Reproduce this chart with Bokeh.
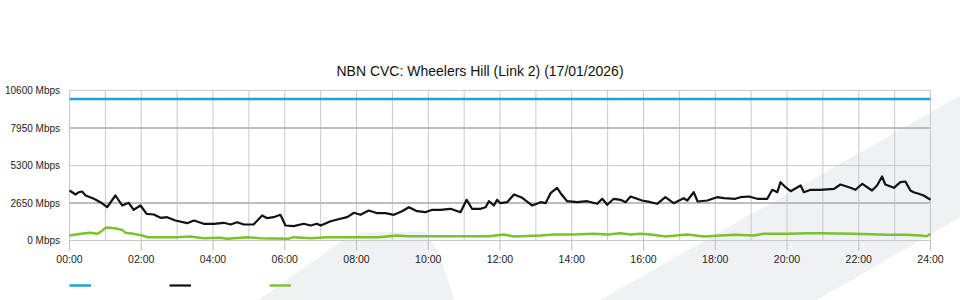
from bokeh.plotting import figure
from bokeh.models import Range1d, Legend, LegendItem
from bokeh.core.properties import value
from bokeh.embed import file_html
from bokeh.resources import INLINE

# ---------------- data ----------------
title_text = "NBN CVC: Wheelers Hill (Link 2) (17/01/2026)"

y_ticks = [0, 2650, 5300, 7950, 10600]
y_tick_labels = ["0 Mbps", "2650 Mbps", "5300 Mbps", "7950 Mbps", "10600 Mbps"]

x_ticks = [0, 2, 4, 6, 8, 10, 12, 14, 16, 18, 20, 22, 24]
x_tick_labels = ["00:00", "02:00", "04:00", "06:00", "08:00", "10:00", "12:00",
                 "14:00", "16:00", "18:00", "20:00", "22:00", "24:00"]
x_grid_hours = list(range(0, 25))

capacity_hours = [0, 24]
capacity_mbps = [10000, 10000]

black_hours = [0.00, 0.17, 0.26, 0.35, 0.45, 0.68, 0.86, 1.05, 1.28, 1.47, 1.65, 1.79,
               1.98, 2.15, 2.35, 2.54, 2.72, 2.95, 3.28, 3.47, 3.74, 4.02, 4.30, 4.49,
               4.67, 4.86, 5.13, 5.37, 5.51, 5.69, 5.88, 6.02, 6.25, 6.53, 6.72, 6.90,
               7.00, 7.28, 7.55, 7.74, 7.93, 8.11, 8.34, 8.58, 8.81, 9.04, 9.27, 9.46,
               9.69, 9.92, 10.11, 10.34, 10.62, 10.90, 11.07, 11.22, 11.46, 11.60, 11.69,
               11.83, 11.92, 12.01, 12.20, 12.39, 12.62, 12.90, 13.13, 13.27, 13.41,
               13.59, 13.69, 13.87, 14.15, 14.43, 14.71, 14.85, 14.99, 15.17, 15.36,
               15.50, 15.64, 15.96, 16.20, 16.38, 16.61, 16.84, 17.12, 17.22, 17.40,
               17.51, 17.78, 18.05, 18.24, 18.56, 18.70, 18.94, 19.17, 19.45, 19.59,
               19.73, 19.82, 19.96, 20.10, 20.38, 20.47, 20.66, 20.93, 21.31, 21.49,
               21.77, 21.91, 22.10, 22.37, 22.51, 22.65, 22.74, 22.98, 23.16, 23.30,
               23.44, 23.53, 23.67, 23.81, 24.00]
black_mbps = [3533, 3251, 3413, 3463, 3180, 2947, 2707, 2353, 3180, 2473, 2664, 2170,
              2473, 1887, 1837, 1604, 1647, 1413, 1223, 1413, 1180, 1180, 1251, 1131,
              1293, 1131, 1131, 1767, 1576, 1647, 1816, 1060, 1011, 1180, 1060, 1180,
              1060, 1364, 1534, 1647, 1958, 1816, 2120, 1929, 1929, 1816, 2071, 2353,
              2071, 2000, 2170, 2170, 2240, 2000, 2876, 2240, 2240, 2353, 2777,
              2473, 2876, 2636, 2707, 3251, 3018, 2473, 2707, 2636, 3343,
              3724, 3343, 2777, 2707, 2777, 2594, 2947, 2523, 2947, 2876,
              2707, 3109, 2827, 2707, 2594, 3060, 2636, 2989, 2827, 3413,
              2756, 2827, 3060, 2989, 2947, 3060, 3109, 2947, 2947, 3583,
              3413, 4120, 3767, 3484, 3887, 3413, 3583, 3583, 3654, 3958,
              3724, 3583, 4007, 3533, 3887, 4523, 3958, 3724, 4120, 4170,
              3533, 3413, 3300, 3180, 2876]

green_hours = [0.00, 0.31, 0.59, 0.77, 0.86, 1.00, 1.14, 1.33, 1.47, 1.56, 1.79, 2.03,
               2.17, 2.54, 3.00, 3.37, 3.74, 4.20, 4.40, 4.95, 5.32, 6.10, 6.25, 6.72,
               7.18, 8.11, 8.60, 9.13, 9.41, 10.00, 10.50, 11.00, 11.70, 12.10, 12.39,
               13.13, 13.50, 14.06, 14.60, 15.00, 15.36, 15.64, 15.92, 16.20, 16.61,
               17.22, 17.68, 18.15, 18.56, 19.07, 19.35, 20.00, 20.56, 20.93, 21.86,
               22.79, 23.30, 23.72, 23.90, 24.00]
green_mbps = [353, 473, 544, 473, 587, 897, 897, 827, 756, 544, 473, 353,
              233, 233, 233, 283, 163, 190, 120, 233, 163, 120, 233, 163,
              233, 233, 233, 353, 304, 304, 304, 304, 304, 424, 283,
              353, 424, 424, 473, 424, 516, 424, 473, 424, 283,
              424, 283, 353, 403, 353, 473, 473, 516, 516, 473,
              403, 403, 353, 304, 473]

# ---------------- layout (pixels) ----------------
W, H = 960, 300
PLOT_L, PLOT_R, PLOT_T, PLOT_B = 69, 930, 90, 240
X0, X1 = x_ticks[0], x_ticks[-1]
Y0, Y1 = y_ticks[0], y_ticks[-1]
xpp = (X1 - X0) / (PLOT_R - PLOT_L)        # hours per pixel
ypp = (Y1 - Y0) / (PLOT_B - PLOT_T)        # Mbps per pixel
x_start = X0 - PLOT_L * xpp
x_end = X1 + (W - PLOT_R) * xpp
y_start = Y0 - (H - PLOT_B) * ypp
y_end = Y1 + PLOT_T * ypp


def px(sx):
    return x_start + sx * xpp


def py(sy):
    return y_end - sy * ypp


FONT = "Liberation Sans"

p = figure(width=W, height=H, x_range=Range1d(x_start, x_end),
           y_range=Range1d(y_start, y_end), output_backend="svg",
           toolbar_location=None, x_axis_location=None, y_axis_location=None,
           min_border=0, min_border_left=0, min_border_right=0,
           min_border_top=0, min_border_bottom=0)
p.background_fill_color = "white"
p.border_fill_color = "white"
p.outline_line_color = None
p.xgrid.visible = False
p.ygrid.visible = False

# faint background watermark shapes
wm_color = "#f0f1f4"
wm_xs = [[px(v) for v in (590, 965, 965, 807)],
         [px(v) for v in (250, 345, 362, 425, 438, 456)]]
wm_ys = [[py(v) for v in (305, 92, 214, 305)],
         [py(v) for v in (305, 238, 232, 231, 252, 305)]]
p.patches(wm_xs, wm_ys, fill_color=wm_color, line_color=None)

# grid lines
p.segment(x0=x_grid_hours, y0=[Y0] * len(x_grid_hours),
          x1=x_grid_hours, y1=[Y1] * len(x_grid_hours),
          line_color="#c8c8c8", line_width=1)
thin_y = [y_ticks[0], y_ticks[2], y_ticks[4]]
thick_y = [y_ticks[1], y_ticks[3]]
p.segment(x0=[X0] * 3, y0=thin_y, x1=[X1] * 3, y1=thin_y,
          line_color="#c8c8c8", line_width=1.2)
p.segment(x0=[X0] * 2, y0=thick_y, x1=[X1] * 2, y1=thick_y,
          line_color="#bdbdbd", line_width=2)

# x tick marks and labels
p.segment(x0=x_ticks, y0=[Y0] * len(x_ticks), x1=x_ticks,
          y1=[Y0 - 10 * ypp] * len(x_ticks), line_color="#bbbbbb", line_width=1)
p.text(x=x_ticks, y=[Y0 - 12 * ypp] * len(x_ticks), text=x_tick_labels,
       text_align="center", text_baseline="top", text_font=value(FONT),
       text_font_size="10.5px", text_color="#222222")

# y labels
p.text(x=[px(59.5)] * len(y_ticks), y=y_ticks, text=y_tick_labels,
       text_align="right", text_baseline="middle", text_font=value(FONT),
       text_font_size="10px", text_color="#222222")

# title
p.text(x=[px(479.5)], y=[py(70)], text=[title_text], text_align="center",
       text_baseline="middle", text_font=value(FONT), text_font_size="14px",
       text_color="#111111")

# series
r_cap = p.line(capacity_hours, capacity_mbps, line_color="#1ea0dc", line_width=2.5)
r_blk = p.line(black_hours, black_mbps, line_color="#111111", line_width=2.2,
               line_join="round")
r_grn = p.line(green_hours, green_mbps, line_color="#7cc02c", line_width=2.4,
               line_join="round")

legend = Legend(items=[LegendItem(label="\u00a0", renderers=[r_cap]),
                       LegendItem(label="\u00a0", renderers=[r_blk]),
                       LegendItem(label="\u00a0", renderers=[r_grn])],
                location=(PLOT_L, 5), orientation="horizontal",
                glyph_width=22, glyph_height=20, label_width=70, label_height=20,
                label_standoff=5, spacing=3, padding=0, margin=0,
                border_line_alpha=0, background_fill_alpha=0,
                label_text_font_size="10px")
p.add_layout(legend, "center")

open("out.html", "w").write(file_html(p, INLINE))
